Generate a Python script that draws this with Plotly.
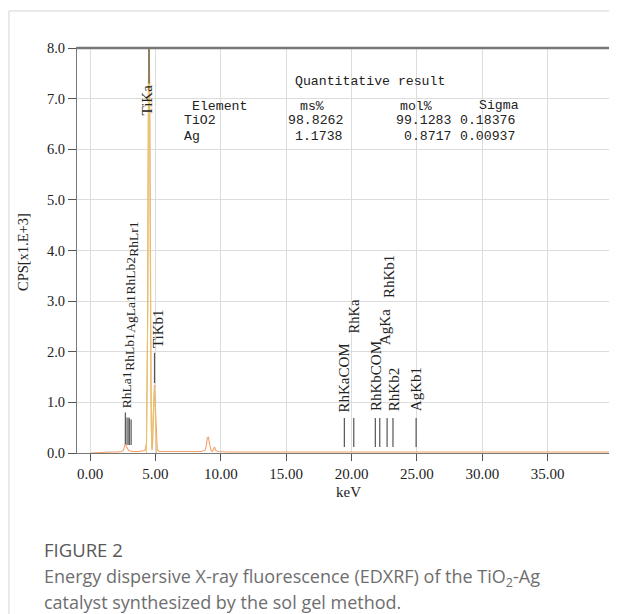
import plotly.graph_objects as go

# ---------------- data ----------------
energy_kev = [0.0, 0.5, 1.0, 1.5, 2.0, 2.4, 2.55, 2.62, 2.70, 2.78, 2.86, 2.95, 3.05, 3.3,
              3.7, 4.0, 4.2, 4.32, 4.40, 4.46, 4.51, 4.56, 4.62, 4.68, 4.74, 4.80, 4.86,
              4.93, 5.00, 5.06, 5.14, 5.3, 5.6, 6.0, 6.5, 7.0, 7.5, 8.0, 8.5, 8.8, 8.9,
              8.97, 9.05, 9.15, 9.25, 9.35, 9.45, 9.52, 9.62, 9.8, 10.5, 11.5, 12.5, 13.5,
              14.5, 16.0, 18.0, 20.0, 22.0, 24.0, 26.0, 28.0, 30.0, 32.0, 34.0, 36.0, 38.0, 40.0]
cps_k = [0.0, 0.01, 0.01, 0.02, 0.02, 0.03, 0.05, 0.10, 0.19, 0.13, 0.08, 0.05, 0.04, 0.03,
         0.03, 0.04, 0.05, 0.2, 2.6, 7.2, 8.6, 7.2, 2.6, 0.5, 0.05, 0.3, 0.9,
         1.35, 0.9, 0.3, 0.06, 0.03, 0.03, 0.02, 0.03, 0.02, 0.02, 0.03, 0.03, 0.06, 0.15,
         0.30, 0.31, 0.17, 0.05, 0.03, 0.11, 0.12, 0.05, 0.03, 0.02, 0.02, 0.03, 0.02,
         0.02, 0.02, 0.02, 0.02, 0.02, 0.02, 0.02, 0.02, 0.02, 0.02, 0.02, 0.02, 0.02, 0.02]

fit_energy = [4.30, 4.42, 4.48, 4.53, 4.58, 4.64, 4.72, 4.84, 4.92, 4.98, 5.08]
fit_cps = [0.0, 3.0, 7.5, 8.6, 5.5, 1.5, 0.1, 0.8, 1.3, 0.8, 0.0]

line_names = ["RhLa1", "RhLb1", "AgLa1", "RhLb2", "RhLr1", "TiKa", "TiKb1",
              "RhKaCOM", "RhKa", "RhKbCOM", "AgKa", "RhKb1", "RhKb2", "AgKb1"]
line_kev = [2.70, 2.83, 2.98, 3.00, 3.14, 4.51, 4.93,
            19.45, 20.17, 21.82, 22.16, 22.72, 23.17, 24.94]
line_top = [0.80, 0.70, 0.70, 0.68, 0.66, 8.0, 1.98,
            0.69, 0.69, 0.69, 0.69, 0.69, 0.69, 0.69]
line_bottom = [0.18, 0.16, 0.16, 0.16, 0.16, 7.30, 1.38,
               0.12, 0.12, 0.12, 0.12, 0.12, 0.12, 0.12]

elements = ["TiO2", "Ag"]
ms_pct = ["98.8262", "1.1738"]
mol_pct = ["99.1283", "0.8717"]
sigma = ["0.18376", "0.00937"]

x_ticks = [0, 5, 10, 15, 20, 25, 30, 35]
x_tick_labels = ["0.00", "5.00", "10.00", "15.00", "20.00", "25.00", "30.00", "35.00"]
y_ticks = [0, 1, 2, 3, 4, 5, 6, 7, 8]
y_tick_labels = ["0.0", "1.0", "2.0", "3.0", "4.0", "5.0", "6.0", "7.0", "8.0"]

# ---------------- layout constants ----------------
label_base = [0.84, 1.58, 2.33, 3.09, 3.84, 6.62, 2.04,
              0.75, 2.33, 0.79, 2.10, 3.02, 0.79, 0.79]
label_dx = [0.15, 0.12, 0.05, 0.12, 0.12, -0.15, 0.25,
            -0.1, 0.05, 0.05, 0.35, 0.1, 0.05, 0.0]
label_size = [13.5, 13.5, 13.5, 13.5, 13.5, 15, 15, 15, 14.5, 15, 15, 15, 15, 15]

SERIF = "Liberation Serif, Times New Roman, serif"
MONO = "Liberation Mono, Courier New, monospace"
SANS = "Open Sans, Noto Sans, sans-serif"
TBL = 13.2

fig = go.Figure()

# spectrum
fig.add_trace(go.Scatter(x=energy_kev, y=cps_k, mode="lines",
                         line=dict(color="#F4A06B", width=1.1), hoverinfo="skip"))
fig.add_trace(go.Scatter(x=fit_energy, y=fit_cps, mode="lines",
                         line=dict(color="#E3C76A", width=1), hoverinfo="skip"))

# element marker lines
lx, ly = [], []
for e, b, t in zip(line_kev, line_bottom, line_top):
    lx += [e, e, None]
    ly += [b, t, None]
fig.add_trace(go.Scatter(x=lx, y=ly, mode="lines",
                         line=dict(color="#555555", width=1.2), hoverinfo="skip"))

ann = []
for name, e, base, dx, sz in zip(line_names, line_kev, label_base, label_dx, label_size):
    ann.append(dict(x=e + dx, y=base, xref="x", yref="y", text=name, textangle=-90,
                    showarrow=False, xanchor="center", yanchor="bottom",
                    font=dict(family=SERIF, size=sz, color="#222")))

# quantitative table
ann.append(dict(x=15.54, y=7.33, xref="x", yref="y", text="Quantitative result",
                showarrow=False, xanchor="left", yanchor="middle",
                font=dict(family=MONO, size=TBL, color="#222")))
head_y = 6.84
for txt, xx, anc in [("Element", 7.66, "left"), ("ms%", 15.93, "left"),
                     ("mol%", 23.58, "left"), ("Sigma", 29.56, "left")]:
    ann.append(dict(x=xx, y=head_y + (0.03 if txt == "Sigma" else 0), xref="x", yref="y",
                    text=txt, showarrow=False, xanchor=anc, yanchor="middle",
                    font=dict(family=MONO, size=TBL, color="#222")))
row_y = [6.56, 6.26]
for i in range(len(elements)):
    ann.append(dict(x=7.04, y=row_y[i], xref="x", yref="y", text=elements[i],
                    showarrow=False, xanchor="left", yanchor="middle",
                    font=dict(family=MONO, size=TBL, color="#222")))
    for val, xr in [(ms_pct[i], 19.5), (mol_pct[i], 27.75), (sigma[i], 32.65)]:
        ann.append(dict(x=xr, y=row_y[i], xref="x", yref="y", text=val,
                        showarrow=False, xanchor="right", yanchor="middle",
                        font=dict(family=MONO, size=TBL, color="#222")))

# axis titles
ann.append(dict(x=-0.102, y=0.497, xref="paper", yref="paper", text="CPS[x1.E+3]",
                textangle=-90, showarrow=False, xanchor="center", yanchor="middle",
                font=dict(family=SERIF, size=14.5, color="#222")))
ann.append(dict(x=0.5056, y=-0.096, xref="paper", yref="paper", text="keV",
                showarrow=False, xanchor="center", yanchor="middle",
                font=dict(family=SERIF, size=15, color="#222")))

# caption
ann.append(dict(x=-0.0653, y=-0.2395, xref="paper", yref="paper", text="FIGURE 2",
                showarrow=False, xanchor="left", yanchor="middle",
                font=dict(family=SANS, size=18.5, color="#585858")))
ann.append(dict(x=-0.0653, y=-0.3086, xref="paper", yref="paper",
                text="Energy dispersive X-ray fluorescence (EDXRF) of the TiO<sub>2</sub>-Ag",
                showarrow=False, xanchor="left", yanchor="middle",
                font=dict(family=SANS, size=18, color="#6e6e6e")))
ann.append(dict(x=-0.0653, y=-0.3679, xref="paper", yref="paper",
                text="catalyst synthesized by the sol gel method.",
                showarrow=False, xanchor="left", yanchor="middle",
                font=dict(family=SANS, size=18, color="#6e6e6e")))

shapes = [
    dict(type="line", xref="paper", yref="paper", x0=-0.1269, x1=-0.1269, y0=1.0914, y1=-0.40,
         line=dict(color="#d4d4d4", width=1)),
    dict(type="line", xref="paper", yref="paper", x0=-0.1269, x1=1.01, y0=1.0914, y1=1.0914,
         line=dict(color="#d4d4d4", width=1)),
    dict(type="line", xref="paper", yref="paper", x0=0, x1=1, y0=1, y1=1,
         line=dict(color="#777777", width=2.5)),
]

# the page body adds an 8px offset, so the figure is drawn 8px smaller and shifted
fig.update_layout(
    width=609, height=606,
    margin=dict(l=69, r=4, t=40, b=161),
    paper_bgcolor="white", plot_bgcolor="white",
    showlegend=False,
    annotations=ann, shapes=shapes,
    xaxis=dict(range=[-1, 40], tickvals=x_ticks, ticktext=x_tick_labels,
               showgrid=True, gridcolor="#dcdcdc", gridwidth=1, zeroline=False,
               showline=True, linecolor="#777777", linewidth=1, mirror=True,
               ticks="outside", ticklen=7, tickcolor="#555", tickwidth=1,
               tickfont=dict(family=SERIF, size=15, color="#222")),
    yaxis=dict(range=[0, 8], tickvals=y_ticks, ticktext=y_tick_labels,
               showgrid=True, gridcolor="#dcdcdc", gridwidth=1, zeroline=False,
               showline=True, linecolor="#777777", linewidth=1, mirror=True,
               ticks="outside", ticklen=8, tickcolor="#555", tickwidth=1,
               tickfont=dict(family=SERIF, size=14.5, color="#222")),
)

fig.write_html("out.html")
